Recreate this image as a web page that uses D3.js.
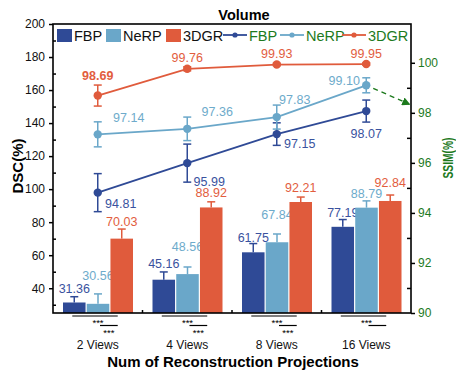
<!DOCTYPE html>
<html>
<head>
    <meta charset="utf-8" />
    <title>Volume</title>
    <style>
        body{
            margin: 0;
            overflow: hidden;
            background: #fff;
        }
        text{
            font-family: "Liberation Sans", Arial, sans-serif;
        }
    </style>
</head>
<body>
    <div id="chart"></div>
    <script src="https://d3js.org/d3.v7.min.js"></script>
    <script>
        // data
        var groups = ["2 Views", "4 Views", "8 Views", "16 Views"];
        var methods = ["FBP", "NeRP", "3DGR"];

        var dscFBP = [31.36, 45.16, 61.75, 77.19];
        var dscNeRP = [30.56, 48.56, 67.84, 88.79];
        var dsc3DGR = [70.03, 88.92, 92.21, 92.84];
        var dscErrFBP = [3.5, 4.7, 5.3, 4.4];
        var dscErrNeRP = [6.0, 4.3, 5.0, 4.1];
        var dscErr3DGR = [5.8, 3.4, 3.0, 3.6];

        var ssimFBP = [94.81, 95.99, 97.15, 98.07];
        var ssimNeRP = [97.14, 97.36, 97.83, 99.10];
        var ssim3DGR = [98.69, 99.76, 99.93, 99.95];
        var ssimErrFBP = [0.76, 0.76, 0.45, 0.44];
        var ssimErrNeRP = [0.5, 0.47, 0.48, 0.3];
        var ssimErr3DGR = [0.42, 0.08, 0.05, 0.05];

        var leftTicks = [40, 60, 80, 100, 120, 140, 160, 180, 200];
        var rightTicks = [90, 92, 94, 96, 98, 100];
        // significance: second bracket in 16 Views has no stars
        var sigSecondStars = [true, true, true, false];

        // layout tweaks for value labels (pixels)
        var barLabelLift = [[8, 8, 6, 7], [18, 20, 19, 7], [7, 9, 9, 12]];
        var lineLabelNudge = [
            [[23, 11], [22, 19], [23, 10], [0, 23]],
            [[31, -16], [30, -17], [18, -17], [-22, -4]],
            [[0, -9], [0, -9], [0, -9], [0, -9]]
        ];

        var colors = ["#2f4a96", "#6aa7c9", "#e05b3c"];
        var labelColors = ["#3a529e", "#6eabcb", "#e25d3e"];
        var green = "#1d7a1d";

        var dsc = [dscFBP, dscNeRP, dsc3DGR];
        var dscErr = [dscErrFBP, dscErrNeRP, dscErr3DGR];
        var ssim = [ssimFBP, ssimNeRP, ssim3DGR];
        var ssimErr = [ssimErrFBP, ssimErrNeRP, ssimErr3DGR];

        var width = 456, height = 371;
        var plotL = 53, plotR = 411, plotT = 24, plotB = 313;

        var svg = d3.select("#chart")
            .append("svg")
            .attr("width", width)
            .attr("height", height);

        svg.append("defs").append("marker")
            .attr("id", "arrow")
            .attr("viewBox", "0 0 10 10")
            .attr("refX", 8).attr("refY", 5)
            .attr("markerWidth", 6).attr("markerHeight", 6)
            .attr("orient", "auto")
            .append("path")
            .attr("d", "M0,0L10,5L0,10z")
            .attr("fill", green);

        // scales
        var x = d3.scaleBand().domain(groups).range([plotL, plotR]);
        var xs = d3.scaleBand().domain(methods).range([10, 80]).paddingInner(0.05);
        var yL = d3.scaleLinear().domain([25, 200]).range([plotB, plotT]);
        var yR = d3.scaleLinear().domain([90, 101.55]).range([plotB, plotT]);
        var cx = g => x(g) + x.bandwidth() / 2;
        var bx = (g, m) => x(g) + xs(m) + xs.bandwidth() / 2;

        // bars
        methods.forEach(function (m, mi) {
            var rows = groups.map((g, i) => ({ g: g, v: dsc[mi][i], e: dscErr[mi][i], i: i }));
            var grp = svg.append("g");
            grp.selectAll("rect")
                .data(rows)
                .join("rect")
                .attr("x", d => x(d.g) + xs(m))
                .attr("y", d => yL(d.v))
                .attr("width", xs.bandwidth())
                .attr("height", d => plotB - yL(d.v))
                .attr("fill", colors[mi]);
            grp.selectAll("line.err")
                .data(rows)
                .join("line")
                .attr("class", "err")
                .attr("x1", d => bx(d.g, m)).attr("x2", d => bx(d.g, m))
                .attr("y1", d => yL(d.v)).attr("y2", d => yL(d.v + d.e))
                .attr("stroke", colors[mi]).attr("stroke-width", 1.5);
            grp.selectAll("line.cap")
                .data(rows)
                .join("line")
                .attr("class", "cap")
                .attr("x1", d => bx(d.g, m) - 4).attr("x2", d => bx(d.g, m) + 4)
                .attr("y1", d => yL(d.v + d.e)).attr("y2", d => yL(d.v + d.e))
                .attr("stroke", colors[mi]).attr("stroke-width", 1.5);
            grp.selectAll("text")
                .data(rows)
                .join("text")
                .attr("x", d => bx(d.g, m))
                .attr("y", d => yL(d.v + d.e) - barLabelLift[mi][d.i] + 4)
                .attr("text-anchor", "middle")
                .attr("font-size", 12.5)
                .attr("fill", labelColors[mi])
                .text(d => d.v.toFixed(2));
        });

        // frame
        svg.append("rect")
            .attr("x", plotL).attr("y", plotT)
            .attr("width", plotR - plotL).attr("height", plotB - plotT)
            .attr("fill", "none").attr("stroke", "#000").attr("stroke-width", 1.6);

        // lines (SSIM on right axis)
        var line = d3.line().x(d => cx(d.g)).y(d => yR(d.v));
        methods.forEach(function (m, mi) {
            var rows = groups.map((g, i) => ({ g: g, v: ssim[mi][i], e: ssimErr[mi][i], i: i }));
            var grp = svg.append("g");
            grp.append("path")
                .datum(rows)
                .attr("d", line)
                .attr("fill", "none")
                .attr("stroke", colors[mi])
                .attr("stroke-width", 1.8);
            rows.forEach(function (d) {
                var px = cx(d.g);
                var lo = d.v - d.e, hi = d.v + d.e;
                grp.append("line")
                    .attr("x1", px).attr("x2", px)
                    .attr("y1", yR(lo)).attr("y2", yR(hi))
                    .attr("stroke", colors[mi]).attr("stroke-width", 1.5);
                [lo, hi].forEach(function (v) {
                    grp.append("line")
                        .attr("x1", px - 4).attr("x2", px + 4)
                        .attr("y1", yR(v)).attr("y2", yR(v))
                        .attr("stroke", colors[mi]).attr("stroke-width", 1.5);
                });
            });
            grp.selectAll("circle")
                .data(rows)
                .join("circle")
                .attr("cx", d => cx(d.g))
                .attr("cy", d => yR(d.v))
                .attr("r", 4.2)
                .attr("fill", colors[mi]);
            grp.selectAll("text")
                .data(rows)
                .join("text")
                .attr("x", d => cx(d.g) + lineLabelNudge[mi][d.i][0])
                .attr("y", d => {
                    var base = mi == 2 ? yR(d.v + d.e) : yR(d.v);
                    return base + lineLabelNudge[mi][d.i][1] + 4;
                })
                .attr("text-anchor", "middle")
                .attr("font-size", 12.5)
                .attr("font-weight", d => (mi == 2 && d.i == 0) ? "bold" : "normal")
                .attr("fill", labelColors[mi])
                .text(d => d.v.toFixed(2));
        });

        // arrow pointing to SSIM axis
        svg.append("line")
            .attr("x1", cx(groups[3]) + 7).attr("y1", yR(ssimNeRP[3]) + 3)
            .attr("x2", plotR - 2).attr("y2", yR(98.35))
            .attr("stroke", green).attr("stroke-width", 1.4)
            .attr("stroke-dasharray", "5,4")
            .attr("marker-end", "url(#arrow)");

        // left axis
        var axL = svg.append("g")
            .attr("transform", `translate(${plotL},0)`)
            .call(d3.axisLeft(yL).tickValues(leftTicks).tickSize(4).tickSizeOuter(0));
        axL.select(".domain").remove();
        axL.selectAll("line").attr("stroke-width", 1.5);
        axL.selectAll("text").attr("font-size", 12).attr("fill", "#111").attr("dx", "-1");
        var axLm = svg.append("g")
            .attr("transform", `translate(${plotL},0)`)
            .call(d3.axisLeft(yL).tickValues(leftTicks.map(v => v - 10)).tickSize(-3).tickFormat(""));
        axLm.select(".domain").remove();
        axLm.selectAll("line").attr("stroke-width", 1.5);

        // right axis
        var axR = svg.append("g")
            .attr("transform", `translate(${plotR},0)`)
            .call(d3.axisRight(yR).tickValues(rightTicks).tickSize(4).tickSizeOuter(0));
        axR.select(".domain").remove();
        axR.selectAll("line").attr("stroke-width", 1.5);
        axR.selectAll("text").attr("font-size", 12).attr("fill", green);
        var axRm = svg.append("g")
            .attr("transform", `translate(${plotR},0)`)
            .call(d3.axisRight(yR).tickValues(rightTicks.slice(0, -1).map(v => v + 1)).tickSize(-4).tickFormat(""));
        axRm.select(".domain").remove();
        axRm.selectAll("line").attr("stroke-width", 1.5);

        // bottom axis: band boundary ticks and labels
        svg.selectAll("line.bt")
            .data(groups.slice(1))
            .join("line")
            .attr("class", "bt")
            .attr("x1", d => x(d)).attr("x2", d => x(d))
            .attr("y1", plotB).attr("y2", plotB - 3)
            .attr("stroke", "#000").attr("stroke-width", 1.5);
        svg.selectAll("text.xl")
            .data(groups)
            .join("text")
            .attr("class", "xl")
            .attr("x", d => cx(d))
            .attr("y", 349)
            .attr("text-anchor", "middle")
            .attr("font-size", 12)
            .attr("fill", "#111")
            .text(d => d);

        // significance brackets
        groups.forEach(function (g, i) {
            var a = bx(g, "FBP") - 2, b = bx(g, "NeRP"), c = bx(g, "3DGR") - 4;
            svg.append("line")
                .attr("x1", a).attr("x2", c).attr("y1", 316).attr("y2", 316)
                .attr("stroke", "#000").attr("stroke-width", 1.2);
            svg.append("text")
                .attr("x", b).attr("y", 325.5)
                .attr("text-anchor", "middle").attr("font-size", 9.5)
                .text("***");
            svg.append("line")
                .attr("x1", b + 2).attr("x2", c).attr("y1", 325.5).attr("y2", 325.5)
                .attr("stroke", "#000").attr("stroke-width", 1.2);
            if (sigSecondStars[i]) {
                svg.append("text")
                    .attr("x", (b + 2 + c) / 2).attr("y", 335.5)
                    .attr("text-anchor", "middle").attr("font-size", 9.5)
                    .text("***");
            }
        });

        // titles
        svg.append("text")
            .attr("x", 244).attr("y", 20)
            .attr("text-anchor", "middle")
            .attr("font-size", 14.5).attr("font-weight", "bold")
            .text("Volume");
        svg.append("text")
            .attr("x", 233).attr("y", 367)
            .attr("text-anchor", "middle")
            .attr("font-size", 15).attr("font-weight", "bold")
            .text("Num of Reconstruction Projections");
        svg.append("text")
            .attr("transform", "translate(23,166) rotate(-90)")
            .attr("text-anchor", "middle")
            .attr("font-size", 15).attr("font-weight", "bold")
            .text("DSC(%)");
        svg.append("text")
            .attr("transform", "translate(453,158) rotate(-90)")
            .attr("text-anchor", "middle")
            .attr("font-size", 14).attr("font-weight", "bold")
            .attr("fill", green)
            .attr("textLength", 41).attr("lengthAdjust", "spacingAndGlyphs")
            .text("SSIM(%)");

        // legend: bars
        var legX = [57, 106, 166];
        methods.forEach(function (m, mi) {
            svg.append("rect")
                .attr("x", legX[mi]).attr("y", 29)
                .attr("width", 15).attr("height", 13)
                .attr("fill", colors[mi]);
            svg.append("text")
                .attr("x", legX[mi] + 17).attr("y", 40.5)
                .attr("font-size", 14.5)
                .attr("fill", "#111")
                .text(m);
        });
        // legend: lines
        var lineLegX = [223, 280, 342];
        methods.forEach(function (m, mi) {
            var lx = lineLegX[mi];
            svg.append("line")
                .attr("x1", lx).attr("x2", lx + 24).attr("y1", 35).attr("y2", 35)
                .attr("stroke", colors[mi]).attr("stroke-width", 1.8);
            svg.append("circle")
                .attr("cx", lx + 12).attr("cy", 35).attr("r", 2.6)
                .attr("fill", colors[mi]);
            svg.append("text")
                .attr("x", lx + 26).attr("y", 40.5)
                .attr("font-size", 14.5)
                .attr("fill", green)
                .text(m);
        });
    </script>
</body>
</html>
